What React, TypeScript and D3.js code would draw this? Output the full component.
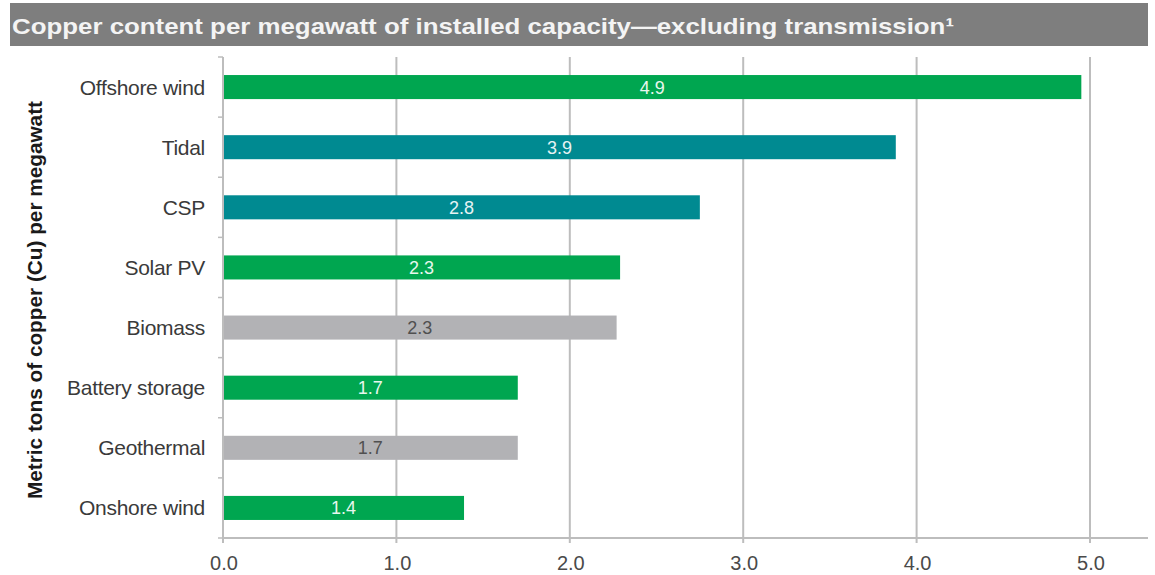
import React from "react";
import * as d3 from "d3";

const categories = ["Offshore wind", "Tidal", "CSP", "Solar PV", "Biomass", "Battery storage", "Geothermal", "Onshore wind"];
const values = [4.95, 3.88, 2.75, 2.29, 2.27, 1.7, 1.7, 1.39];
const valueLabels = ["4.9", "3.9", "2.8", "2.3", "2.3", "1.7", "1.7", "1.4"];
const groups = ["green", "teal", "teal", "green", "gray", "green", "gray", "green"];
const xTicks = [0, 1, 2, 3, 4, 5];
const title = "Copper content per megawatt of installed capacity\u2014excluding transmission\u00b9";
const yTitle = "Metric tons of copper (Cu) per megawatt";

const colors: Record<string, string> = { green: "#00A650", teal: "#008A91", gray: "#B2B2B5" };
const labelColors: Record<string, string> = { green: "#E8F7EE", teal: "#E6F3F4", gray: "#505050" };

export default function App() {
  const W = 1155, H = 575;
  const x = d3.scaleLinear().domain([0, 5]).range([223, 1090]);
  const y = d3.scaleBand<string>().domain(categories).range([57, 538]).paddingInner(0.6).paddingOuter(0.3);
  const step = y.step();
  const boundaries = d3.range(categories.length + 1).map((i) => 57 + i * step);
  const font = "'Liberation Sans', Arial, sans-serif";
  return (
    <svg width={W} height={H} style={{ position: "absolute", left: 0, top: 0, background: "#fff" }} fontFamily={font}>
      <rect x={0} y={0} width={W} height={H} fill="#fff" />
      {/* title bar */}
      <rect x={10} y={3} width={1138} height={43} fill="#7E7E7E" />
      <text x={12} y={34} fill="#F4F4F4" fontSize={22} fontWeight="bold" textLength={942} lengthAdjust="spacingAndGlyphs">
        {title}
      </text>
      {/* gridlines */}
      {xTicks.slice(1).map((t) => (
        <line key={t} x1={x(t)} x2={x(t)} y1={57} y2={543} stroke="#BDBDBD" strokeWidth={2} />
      ))}
      {/* x axis baseline */}
      <line x1={223} x2={1148} y1={538} y2={538} stroke="#BDBDBD" strokeWidth={2} />
      <line x1={x(0)} x2={x(0)} y1={538} y2={543} stroke="#BDBDBD" strokeWidth={2} />
      {/* bars */}
      {categories.map((c, i) => (
        <rect key={c} x={x(0)} y={y(c)} width={x(values[i]) - x(0)} height={y.bandwidth()} fill={colors[groups[i]]} />
      ))}
      {/* y axis */}
      <line x1={223} x2={223} y1={57} y2={538} stroke="#BDBDBD" strokeWidth={2} />
      {boundaries.map((b, i) => (
        <line key={i} x1={218} x2={223} y1={b} y2={b} stroke="#BDBDBD" strokeWidth={1.5} />
      ))}
      {/* value labels */}
      {categories.map((c, i) => (
        <text
          key={c}
          x={(x(0) + x(values[i])) / 2}
          y={(y(c) as number) + y.bandwidth() / 2}
          dy="0.36em"
          textAnchor="middle"
          fontSize={18}
          fill={labelColors[groups[i]]}
        >
          {valueLabels[i]}
        </text>
      ))}
      {/* category labels */}
      {categories.map((c) => (
        <text key={c} x={205} y={(y(c) as number) + y.bandwidth() / 2} dy="0.36em" textAnchor="end" fontSize={21} fill="#3A3A3A" letterSpacing={-0.3}>
          {c}
        </text>
      ))}
      {/* x tick labels */}
      {xTicks.map((t) => (
        <text key={t} x={x(t) + 1} y={563} dy="0.36em" textAnchor="middle" fontSize={20} fill="#4A4A4A">
          {d3.format(".1f")(t)}
        </text>
      ))}
      {/* y axis title */}
      <text
        transform={`translate(42, ${300}) rotate(-90)`}
        textAnchor="middle"
        fontSize={20}
        fontWeight="bold"
        fill="#1A1A1A"
        textLength={398}
        lengthAdjust="spacingAndGlyphs"
      >
        {yTitle}
      </text>
    </svg>
  );
}
